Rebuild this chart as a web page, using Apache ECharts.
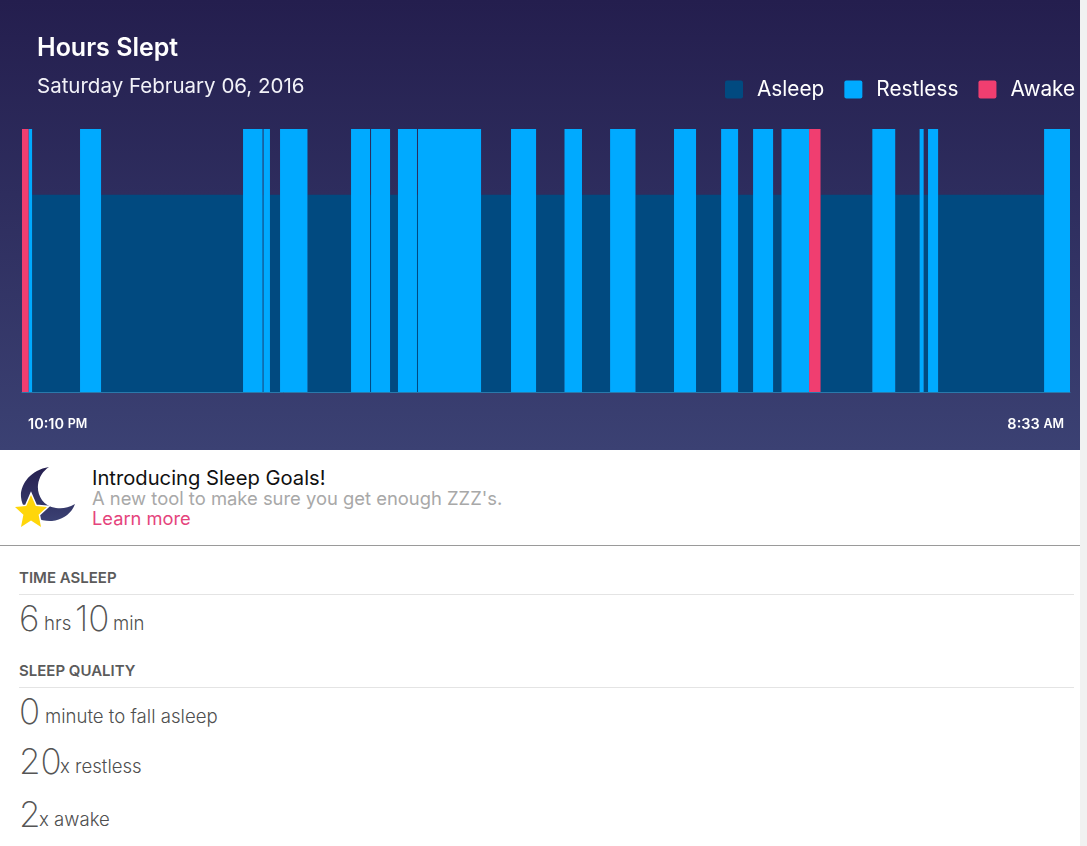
<!DOCTYPE html>
<html><head><meta charset="utf-8">
<script src="https://cdn.jsdelivr.net/npm/echarts@6/dist/echarts.min.js"></script>
<style>
html,body{margin:0;padding:0;background:#f1f1f1;overflow:hidden}
#page{position:relative;width:1080px;height:846px;background:#fff;font-family:Inter,sans-serif;color:#5f5f5f}
#chart{position:absolute;left:0;top:0;width:1080px;height:450px}
.t{position:absolute;white-space:nowrap;line-height:24px}
.big{font-size:35px;font-weight:200;color:#555}
.hd{font-size:15px;font-weight:600;color:#5b5b5b}
.rule{position:absolute;left:19px;width:1055px;height:1px;background:#e4e4e4}
.lab{font-size:18.6px;font-weight:300;color:#4f4f4f}
</style></head><body>
<div id="page">
<div id="chart"></div>
<svg style="position:absolute;left:0;top:450px" width="90" height="95" viewBox="0 450 90 95">
<defs><linearGradient id="mg" x1="0" y1="0" x2="0" y2="1"><stop offset="0" stop-color="#251f4f"/><stop offset="1" stop-color="#3b4173"/></linearGradient></defs>
<path fill="url(#mg)" d="M49 467C30 470 20 485 21 497C22 512 38 522 52 521C63 520 72 513 75 504C68 508 62 509 56 508C42 506 37 494 38 485C39 477 43 471 49 467Z"/>
<path fill="#ffd60a" stroke="#fff" stroke-width="3" paint-order="stroke" d="M31 495L35.8 506L47 507L38.6 514.7L41 527L31 520.6L21 527L23.4 514.7L15 507L26.2 506Z"/>
</svg>
<div class="t" style="left:92px;top:466px;font-size:20.2px;color:#111">Introducing Sleep Goals!</div>
<div class="t" style="left:92px;top:486px;font-size:18.4px;color:#a8a8a8">A new tool to make sure you get enough ZZZ's.</div>
<div class="t" style="left:92px;top:506px;font-size:18.3px;color:#e5437c">Learn more</div>
<div style="position:absolute;left:0;top:545px;width:1080px;height:1px;background:#9a9a9a"></div>
<div class="t hd" style="left:19px;top:566px">TIME ASLEEP</div>
<div class="rule" style="top:594px"></div>
<div class="t big" style="left:19px;top:606px">6</div>
<div class="t lab" style="left:44px;top:611px">hrs</div>
<div class="t big" style="left:75px;top:606px">10</div>
<div class="t lab" style="left:113px;top:611px">min</div>
<div class="t hd" style="left:19px;top:659px">SLEEP QUALITY</div>
<div class="rule" style="top:687px"></div>
<div class="t big" style="left:19px;top:699px">0</div>
<div class="t lab" style="left:45px;top:704px">minute to fall asleep</div>
<div class="t big" style="left:19px;top:749px">20</div>
<div class="t lab" style="left:60px;top:754px">x restless</div>
<div class="t big" style="left:19px;top:802px">2</div>
<div class="t lab" style="left:39px;top:807px">x awake</div>
</div>
<script>
// minutes after 10:10 PM, [start, end]
const asleepSpans = [[6,34.5],[47,131.4],[143,143.6],[147.4,153.4],[169.7,195.6],[206.9,207.5],[218.8,223.5],[234.8,235.4],[272.9,290.7],[305.6,322.5],[332.9,349.6],[364.7,387.6],[400.7,415.6],[425.7,434.6],[446.5,451.5],[474.7,505.5],[519.1,533.6],[536,538.6],[544.6,607.6]];
const restlessSpans = [[3.9,6],[34.5,47],[131.4,143],[143.6,147.4],[153.4,169.7],[195.6,206.9],[207.5,218.8],[223.5,234.8],[235.4,272.9],[290.7,305.6],[322.5,332.9],[349.6,364.7],[387.6,400.7],[415.6,425.7],[434.6,446.5],[451.5,467.9],[505.5,519.1],[533.6,536],[538.6,544.6],[607.6,623]];
const awakeSpans = [[0,3.9],[467.9,474.7]];
const asleepLevel = 3, fullLevel = 4;
const totalMinutes = 623;
const tickMinutes = [0,623];
const tickLabels = ['{pad|}{t|10:10 }{s|PM}','{t|8:33 }{s|AM}{pad|}'];

const chart = echarts.init(document.getElementById('chart'));
function seriesOf(name, spans, level, color){
  return {
    name, type:'custom', data:spans.map(s=>[s[0],s[1],level]),
    encode:{x:[0,1],y:2}, itemStyle:{color},
    renderItem(params, api){
      const a = api.coord([api.value(0), api.value(2)]);
      const b = api.coord([api.value(1), 0]);
      return {type:'rect', shape:{x:a[0],y:a[1],width:b[0]-a[0],height:b[1]-a[1]}, style:{fill:color}};
    }
  };
}
const font = 'Inter';
chart.setOption({
  animation:false,
  backgroundColor:new echarts.graphic.LinearGradient(0,0,0,1,[{offset:0,color:'#241e4e'},{offset:1,color:'#3b4173'}]),
  title:[
    {text:'Hours Slept',left:37,top:36,padding:0,textStyle:{color:'#fff',fontFamily:font,fontWeight:600,fontSize:25}},
    {text:'Saturday February 06, 2016',left:37,top:76,padding:0,textStyle:{color:'#f2f2f8',fontFamily:font,fontWeight:400,fontSize:20.5}}
  ],
  legend:{
    left:725,top:79,padding:0,itemWidth:18,itemHeight:18,itemGap:20,
    icon:'path://M2 0H16Q18 0 18 2V16Q18 18 16 18H2Q0 18 0 16V2Q0 0 2 0Z',
    data:['Asleep','Restless','Awake'],
    textStyle:{color:'#fff',fontFamily:font,fontSize:20.8,padding:[0,0,0,9]}
  },
  grid:{left:22,right:10,top:129,height:263},
  xAxis:{
    type:'value',min:0,max:totalMinutes,
    splitLine:{show:false},
    axisLine:{show:true,onZero:false,lineStyle:{color:'#2a79ab',width:1}},
    axisTick:{show:false},
    axisLabel:{
      customValues:tickMinutes,margin:25,alignMinLabel:'left',alignMaxLabel:'right',
      formatter:(v)=>tickLabels[tickMinutes.indexOf(v)],
      rich:{pad:{width:6},t:{color:'#fff',fontFamily:font,fontSize:14.5,fontWeight:600},s:{color:'#fff',fontFamily:font,fontSize:12.5,fontWeight:600}}
    }
  },
  yAxis:{type:'value',min:0,max:fullLevel,show:false},
  series:[
    seriesOf('Asleep',asleepSpans,asleepLevel,'#014a80'),
    seriesOf('Restless',restlessSpans,fullLevel,'#00aaff'),
    seriesOf('Awake',awakeSpans,fullLevel,'#f03e70')
  ]
});
</script>
</body></html>
